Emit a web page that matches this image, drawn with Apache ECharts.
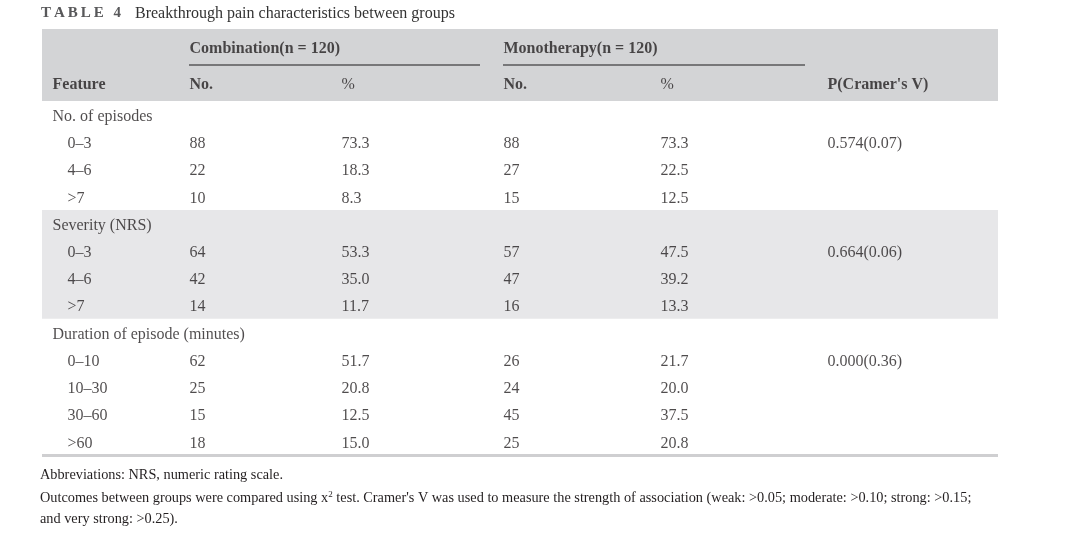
<!DOCTYPE html>
<html><head><meta charset="utf-8">
<script src="https://cdn.jsdelivr.net/npm/echarts@6/dist/echarts.min.js"></script>
<style>html,body{margin:0;padding:0;background:#fff}#c{width:1080px;height:545px}</style>
</head><body><div id="c"></div>
<script>
// ---- data ----
const groupNames = ['No. of episodes', 'Severity (NRS)', 'Duration of episode (minutes)'];
const groupCategories = [['0–3', '4–6', '>7'], ['0–3', '4–6', '>7'], ['0–10', '10–30', '30–60', '>60']];
const combinationNo = [88, 22, 10, 64, 42, 14, 62, 25, 15, 18];
const combinationPct = [73.3, 18.3, 8.3, 53.3, 35.0, 11.7, 51.7, 20.8, 12.5, 15.0];
const monotherapyNo = [88, 27, 15, 57, 47, 16, 26, 24, 45, 25];
const monotherapyPct = [73.3, 22.5, 12.5, 47.5, 39.2, 13.3, 21.7, 20.0, 37.5, 20.8];
const pValues = ['0.574(0.07)', '0.664(0.06)', '0.000(0.36)'];
const headerGroups = ['Combination(n = 120)', 'Monotherapy(n = 120)'];
const headerSub = ['Feature', 'No.', '%', 'No.', '%', "P(Cramer's V)"];
const tableTitle = 'TABLE 4';
const tableCaption = 'Breakthrough pain characteristics between groups';
const footnotes = ['Abbreviations: NRS, numeric rating scale.',
  "Outcomes between groups were compared using x{sup|2} test. Cramer's V was used to measure the strength of association (weak: >0.05; moderate: >0.10; strong: >0.15;",
  'and very strong: >0.25).'];

// ---- layout ----
const FONT = 'Liberation Serif';
const TXT = '#231f20';
const FS = 16;
const colX = { group: 52, sub: 67, no1: 189, pct1: 341, no2: 503, pct2: 660, p: 827 };
const headerCols = [colX.group, colX.no1, colX.pct1, colX.no2, colX.pct2, colX.p];
const groupCols = [colX.no1, colX.no2];

// build body rows
const bodyCols = { feature: [], no1: [], pct1: [], no2: [], pct2: [], p: [] };
let r = 0, k = 0;
const bandRows = [];
groupNames.forEach((g, gi) => {
  const start = r;
  bodyCols.feature.push([colX.group, r + 0.5, g]); r++;
  groupCategories[gi].forEach((c, ci) => {
    bodyCols.feature.push([colX.sub, r + 0.5, c]);
    bodyCols.no1.push([colX.no1, r + 0.5, String(combinationNo[k])]);
    bodyCols.pct1.push([colX.pct1, r + 0.5, combinationPct[k].toFixed(1)]);
    bodyCols.no2.push([colX.no2, r + 0.5, String(monotherapyNo[k])]);
    bodyCols.pct2.push([colX.pct2, r + 0.5, monotherapyPct[k].toFixed(1)]);
    if (ci === 0) bodyCols.p.push([colX.p, r + 0.5, pValues[gi]]);
    r++; k++;
  });
  if (gi === 1) bandRows.push([start, r]);
});
const nRows = r;

function textSeries(data, xi, yi, bold, extra) {
  return Object.assign({
    type: 'scatter', xAxisIndex: xi, yAxisIndex: yi, silent: true,
    symbolSize: 1, itemStyle: { color: 'rgba(0,0,0,0)' },
    data: data,
    label: {
      show: true, position: 'right', distance: 0, offset: [0, 2],
      formatter: p => p.data[2],
      fontFamily: FONT, fontSize: FS, color: TXT, fontWeight: bold ? 'bold' : 'normal'
    }
  }, extra || {});
}

const headerData = headerSub.map((t, i) => [headerCols[i], 1.5, t]);
const headerGroupData = headerGroups.map((t, i) => [groupCols[i], 0.5, t]);

const series = [
  textSeries(headerGroupData, 0, 0, true, {
    markLine: {
      silent: true, symbol: 'none', label: { show: false },
      lineStyle: { color: '#58585a', width: 1.5, type: 'solid' },
      data: [[{ coord: [189, 1] }, { coord: [480, 1] }], [{ coord: [503, 1] }, { coord: [805, 1] }]]
    }
  }),
  textSeries(headerData.filter(d => d[2] !== '%'), 0, 0, true),
  textSeries(headerData.filter(d => d[2] === '%'), 0, 0, false),
  textSeries(bodyCols.feature, 1, 1, false, {
    markArea: {
      silent: true, itemStyle: { color: '#e7e7e9' },
      data: bandRows.map(b => [{ yAxis: b[0] }, { yAxis: b[1] }])
    },
    markLine: {
      silent: true, symbol: 'none', label: { show: false },
      lineStyle: { color: '#cfcfd1', width: 3, type: 'solid' },
      data: [[{ coord: [42, nRows] }, { coord: [998, nRows] }]]
    }
  }),
  textSeries(bodyCols.no1, 1, 1, false),
  textSeries(bodyCols.pct1, 1, 1, false),
  textSeries(bodyCols.no2, 1, 1, false),
  textSeries(bodyCols.pct2, 1, 1, false),
  textSeries(bodyCols.p, 1, 1, false)
];

// spaced title letters as rich tokens
const titleRich = tableTitle.split('').map(ch => '{a|' + ch + '}').join('');

const hiddenX = (gi) => ({ type: 'value', gridIndex: gi, min: 42, max: 998, show: false });
const option = {
  animation: false,
  backgroundColor: '#fff',
  title: [
    { text: titleRich, left: 36, top: 1, textStyle: { fontFamily: FONT, fontSize: 15, fontWeight: 'bold', color: '#58585a',
        rich: { a: { fontFamily: FONT, fontSize: 15, fontWeight: 'bold', color: '#58585a', padding: [0, 3, 0, 0] } } } },
    { text: tableCaption, left: 130, top: 1, textStyle: { fontFamily: FONT, fontSize: 16, fontWeight: 'normal', color: '#333' } }
  ],
  grid: [
    { left: 42, width: 956, top: 29, height: 72, show: true, backgroundColor: '#d3d4d6', borderWidth: 0 },
    { left: 42, width: 956, top: 101, height: 354, show: false }
  ],
  xAxis: [hiddenX(0), hiddenX(1)],
  yAxis: [
    { type: 'value', gridIndex: 0, min: 0, max: 2, inverse: true, show: false },
    { type: 'value', gridIndex: 1, min: 0, max: nRows, inverse: true, show: false }
  ],
  graphic: footnotes.map((t, i) => ({
    type: 'text', left: 40, top: 468 + i * 22, silent: true,
    style: {
      text: t, fontFamily: FONT, fontSize: 14.3, fill: '#231f20',
      rich: { sup: { fontSize: 9, fontFamily: FONT, fill: '#231f20', verticalAlign: 'top', padding: [0, 0, 8, 0] } }
    }
  })),
  series: series
};
const chart = echarts.init(document.getElementById('c'));
chart.setOption(option);
</script></body></html>
